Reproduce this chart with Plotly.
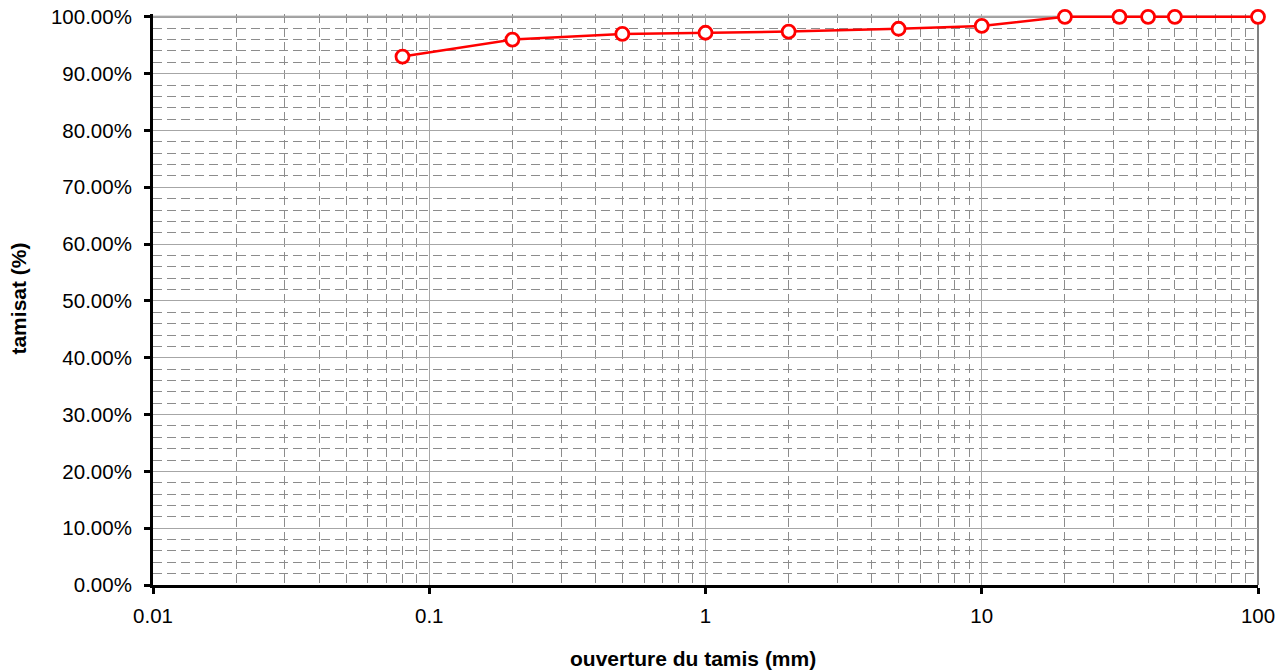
import plotly.graph_objects as go

# Sieve openings (mm) and cumulative passing fraction
ouverture_mm = [0.08, 0.2, 0.5, 1, 2, 5, 10, 20, 31.5, 40, 50, 100]
tamisat = [0.93, 0.96, 0.970, 0.972, 0.974, 0.979, 0.984, 1.0, 1.0, 1.0, 1.0, 1.0]

x_ticks = [0.01, 0.1, 1, 10, 100]
x_tick_labels = ["0.01", "0.1", "1", "10", "100"]
y_ticks = [i / 10 for i in range(11)]

fig = go.Figure()
fig.add_trace(go.Scatter(
    x=ouverture_mm,
    y=tamisat,
    mode="lines+markers",
    line=dict(color="#ff0000", width=2.5),
    marker=dict(symbol="circle", size=13, color="white",
                line=dict(color="#ff0000", width=2.8)),
    cliponaxis=False,
    showlegend=False,
))

font = dict(family="Liberation Sans, Arial, sans-serif", size=20.5, color="black")
title_font = dict(family="Liberation Sans, Arial, sans-serif", size=21, color="black")

fig.update_xaxes(
    type="log",
    range=[-2, 2],
    tickvals=x_ticks,
    ticktext=x_tick_labels,
    showgrid=True,
    gridcolor="#a6a6a6",
    gridwidth=1,
    showline=True,
    linecolor="black",
    linewidth=3,
    ticks="outside",
    ticklen=6,
    tickwidth=3,
    tickcolor="black",
    tickfont=font,
    ticklabelstandoff=4,
    minor=dict(dtick="D1", showgrid=True, gridcolor="#8c8c8c",
               griddash="9px,5px", gridwidth=1, ticks=""),
    zeroline=False,
    automargin=False,
)
fig.update_yaxes(
    range=[0, 1.005],
    tickvals=y_ticks,
    tickformat=".2%",
    showgrid=True,
    gridcolor="#a6a6a6",
    gridwidth=1,
    showline=True,
    linecolor="black",
    linewidth=3,
    ticks="outside",
    ticklen=6,
    tickwidth=3,
    tickcolor="black",
    tickfont=font,
    ticklabelstandoff=8,
    minor=dict(tick0=0, dtick=0.02, showgrid=True, gridcolor="#8c8c8c",
               griddash="9px,5px", gridwidth=1, ticks=""),
    zeroline=False,
    automargin=False,
)

# Axis titles
fig.add_annotation(text="<b>ouverture du tamis (mm)</b>", font=title_font,
                   xref="paper", yref="paper", x=0.489, y=-0.128,
                   xanchor="center", yanchor="middle", showarrow=False)
fig.add_annotation(text="<b>tamisat (%)</b>", font=title_font, textangle=-90,
                   xref="paper", yref="paper", x=-0.122, y=0.502,
                   xanchor="center", yanchor="middle", showarrow=False)

# Gray frame on the top (at 100 %) and right sides of the plot area
fig.add_shape(type="line", xref="paper", yref="y", x0=0, x1=1, y0=1, y1=1,
              line=dict(color="#808080", width=2), layer="below")
fig.add_shape(type="line", xref="paper", yref="y", x0=1, x1=1, y0=0, y1=1,
              line=dict(color="#808080", width=2), layer="below")

fig.update_layout(
    width=1288,
    height=671,
    margin=dict(l=153, r=30, t=14, b=86),
    paper_bgcolor="white",
    plot_bgcolor="white",
    font=font,
)

fig.write_html("out.html")
